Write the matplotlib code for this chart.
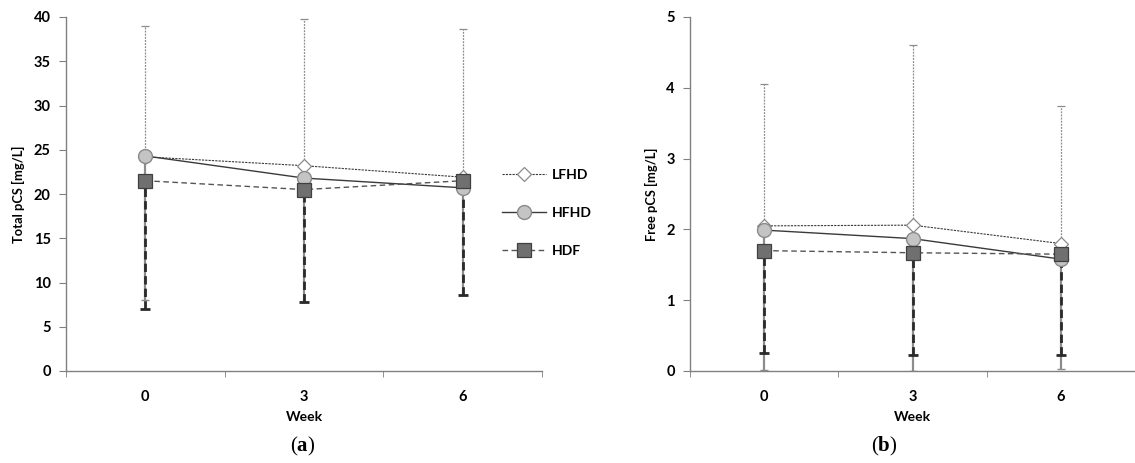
import numpy as np
from matplotlib import pyplot as plt

weeks = ['0', '3', '6']

# panel a: total pCS [mg/L]
tot_lfhd = [24.2, 23.2, 21.9]
tot_lfhd_hi = [39.0, 39.8, 38.6]
tot_hfhd = [24.3, 21.8, 20.7]
tot_hfhd_lo = [8.0, 7.8, 8.6]
tot_hdf = [21.5, 20.5, 21.5]
tot_hdf_lo = [7.0, 7.8, 8.6]

# panel b: free pCS [mg/L]
free_lfhd = [2.05, 2.06, 1.80]
free_lfhd_hi = [4.05, 4.60, 3.74]
free_hfhd = [1.99, 1.87, 1.58]
free_hfhd_lo = [0.02, 0.0, 0.03]
free_hdf = [1.70, 1.67, 1.65]
free_hdf_lo = [0.25, 0.22, 0.22]

plt.rcParams['font.family'] = ['Lato', 'DejaVu Sans']
plt.rcParams['mathtext.fontset'] = 'custom'
plt.rcParams['mathtext.bf'] = 'Liberation Serif:bold'
plt.rcParams['mathtext.rm'] = 'Liberation Serif'

fig = plt.figure(figsize=(11.35, 4.63), dpi=100)
ax1 = fig.add_axes([66/1135, 92/463, 476/1135, 354/463])
ax2 = fig.add_axes([690/1135, 92/463, 445/1135, 354/463])


def panel(ax, lfhd, lfhd_hi, hfhd, hfhd_lo, hdf, hdf_lo, ymax, ystep, ylabel):
    x = np.arange(len(weeks))
    lfhd = np.array(lfhd); hfhd = np.array(hfhd); hdf = np.array(hdf)
    z = np.zeros(len(x))

    # error bars
    eb = ax.errorbar(x, lfhd, yerr=[z, np.array(lfhd_hi) - lfhd], fmt='none',
                     ecolor='#8c8c8c', elinewidth=0.9, capsize=3, capthick=0.9, zorder=1)
    eb[2][0].set_linestyle((0, (1.5, 1)))
    ax.errorbar(x, hfhd, yerr=[hfhd - np.array(hfhd_lo), z], fmt='none',
                ecolor='#8c8c8c', elinewidth=1.6, capsize=3, capthick=1.0, zorder=1)
    eb = ax.errorbar(x, hdf, yerr=[hdf - np.array(hdf_lo), z], fmt='none',
                     ecolor='#2a2a2a', elinewidth=2.0, capsize=3.5, capthick=2.0, zorder=1.5)
    eb[2][0].set_linestyle((0, (3, 1.5)))

    # lines + markers
    ax.plot(x, lfhd, ls=(0, (2, 1)), color='#3a3a3a', lw=0.8, marker='D', ms=7,
            mfc='white', mec='#8a8a8a', mew=0.9, label='LFHD', zorder=3)
    ax.plot(x, hfhd, ls='-', color='#3a3a3a', lw=1.0, marker='o', ms=10,
            mfc='#c4c4c4', mec='#8a8a8a', mew=1.0, label='HFHD', zorder=3)
    ax.plot(x, hdf, ls=(0, (4, 2.5)), color='#555555', lw=1.0, marker='s', ms=10,
            mfc='#707070', mec='#404040', mew=0.9, label='HDF', zorder=3)

    ax.set_xlim(-0.5, 2.5)
    ax.set_ylim(0, ymax)
    ax.set_yticks(np.arange(0, ymax + ystep / 2, ystep))
    ax.set_xticks(x)
    ax.set_xticklabels(weeks)
    ax.set_xticks([-0.5, 0.5, 1.5, 2.5], minor=True)
    ax.tick_params(axis='x', which='major', length=0, pad=14)
    ax.tick_params(axis='x', which='minor', length=4, direction='out', color='#808080')
    ax.tick_params(axis='y', length=5, direction='out', color='#808080', pad=6)
    for lab in ax.get_xticklabels() + ax.get_yticklabels():
        lab.set_fontsize(10.5)
        lab.set_fontweight('bold')
    for s in ['top', 'right']:
        ax.spines[s].set_visible(False)
    for s in ['left', 'bottom']:
        ax.spines[s].set_color('#808080')
        ax.spines[s].set_linewidth(1.0)
    ax.set_ylabel(ylabel, fontsize=9.3, fontweight='bold', labelpad=6)
    ax.set_xlabel('Week', fontsize=10, fontweight='bold', labelpad=5)


panel(ax1, tot_lfhd, tot_lfhd_hi, tot_hfhd, tot_hfhd_lo, tot_hdf, tot_hdf_lo,
      40, 5, 'Total pCS [mg/L]')
panel(ax2, free_lfhd, free_lfhd_hi, free_hfhd, free_hfhd_lo, free_hdf, free_hdf_lo,
      5, 1, 'Free pCS [mg/L]')

leg = ax1.legend(loc='center left', bbox_to_anchor=(495/1135, (463-213)/463),
                 bbox_transform=fig.transFigure, frameon=False, handlelength=3.2,
                 labelspacing=1.85, handletextpad=0.4, borderpad=0,
                 prop={'size': 10, 'weight': 'bold'})

fig.text(303/1135, 1 - 446/463, r'($\mathbf{a}$)', ha='center', va='center', fontsize=15,
         family='Liberation Serif')
fig.text(884/1135, 1 - 446/463, r'($\mathbf{b}$)', ha='center', va='center', fontsize=15,
         family='Liberation Serif')

fig.savefig('out.png', dpi=100)
